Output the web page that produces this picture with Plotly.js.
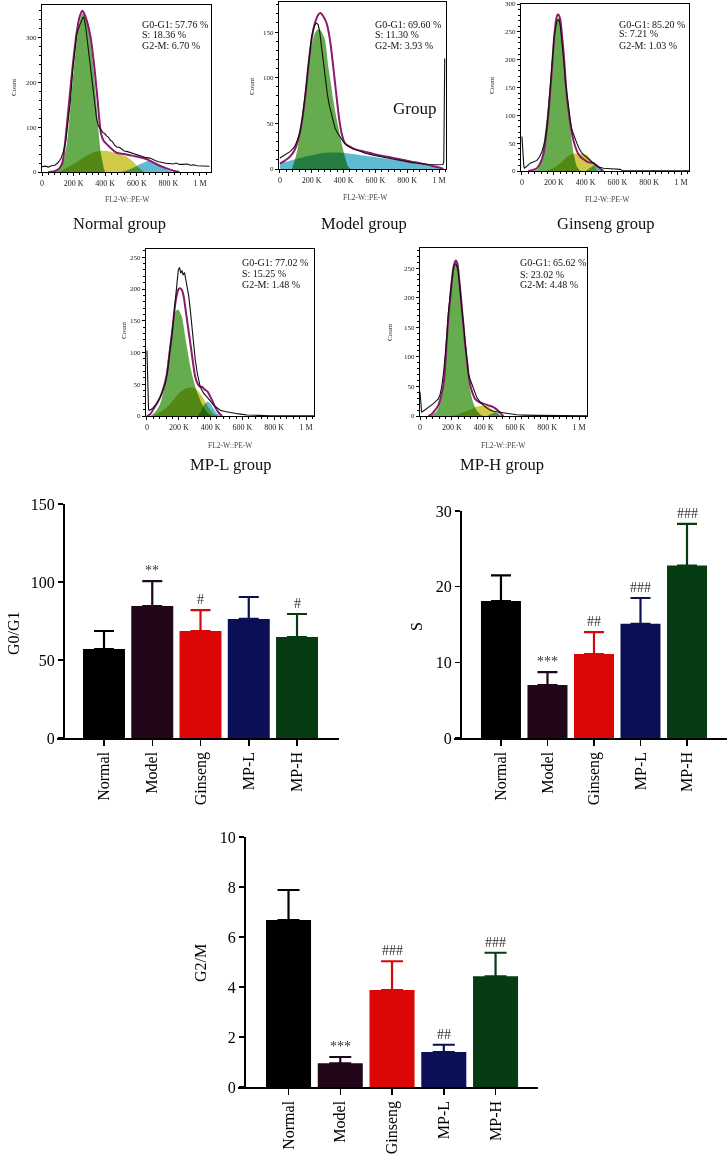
<!DOCTYPE html>
<html><head><meta charset="utf-8">
<script src="https://cdn.plot.ly/plotly-3.0.1.min.js"></script>
<style>html,body{margin:0;padding:0;background:#fff}#chart{width:728px;height:1154px}</style>
</head><body><div id="chart"></div>
<script>
// ---------- histogram data: [FL2-W (K), count] ----------
const normalData = [[0,12],[20,13],[40,11],[60,14],[80,15],[100,20],[120,30],[135,45],[150,68],[165,110],[180,160],[194,225],[208,280],[219,305],[230,320],[241,330],[250,338],[258,345],[264,346],[270,338],[278,320],[288,290],[300,250],[312,210],[324,170],[335,140],[346,118],[357,103],[367,96],[378,92],[388,88],[400,85],[410,80],[420,78],[430,72],[445,68],[460,60],[473,56],[490,55],[505,50],[520,47],[536,46],[555,44],[570,42],[585,41],[600,39],[620,36],[640,34],[660,32],[684,31],[700,28],[720,25],[740,23],[760,21],[789,19],[810,19],[830,18],[850,20],[870,17],[895,17],[920,18],[940,15],[960,16],[980,14],[1000,14],[1020,13],[1060,13]];
const normalFit = [[40,0],[80,2],[110,8],[130,22],[148,72],[173,161],[194,236],[219,310],[237,345],[255,360],[270,352],[290,330],[308,300],[331,236],[352,161],[373,87],[390,70],[405,64],[440,52],[473,43],[520,40],[578,36],[620,33],[660,29],[705,21],[745,14],[789,8],[830,3],[870,0]];
const normalG1 = [[60,0],[100,5],[130,20],[156,60],[181,150],[203,236],[226,310],[245,345],[257,355],[270,350],[287,335],[304,300],[325,236],[346,146],[363,72],[371,45],[383,22],[392,8],[400,0]];
const normalS = [[100,0],[150,8],[200,18],[240,27],[290,38],[330,44],[367,47],[409,47],[450,44],[490,40],[536,34],[570,25],[600,14],[625,6],[650,0]];
const normalG2 = [[500,0],[540,4],[580,10],[630,19],[684,25],[730,20],[770,10],[800,4],[830,0]];

const modelData = [[0,12],[20,14],[40,16],[63,19],[80,22],[94,25],[110,32],[126,40],[140,55],[157,78],[168,95],[178,113],[189,130],[199,145],[210,153],[220,158],[230,160],[241,158],[250,150],[258,138],[265,125],[272,115],[279,105],[287,95],[298,82],[310,70],[325,60],[336,52],[346,45],[360,40],[377,35],[398,30],[419,26],[440,24],[460,22],[482,21],[510,19],[540,17],[570,16],[587,15],[620,14],[650,13],[692,11.5],[730,10],[760,9],[797,8],[830,7],[860,6.5],[901,5.5],[940,5],[980,4.6],[1006,4.4],[1025,5],[1030,8],[1036,121]];
const modelFit = [[0,6],[30,9],[63,13.5],[90,20],[115,32],[136,50],[157,76],[178,112],[199,142],[220,160],[241,169],[255,171],[270,168],[293,160],[314,142],[335,112],[356,79],[373,54],[388,39],[409,28],[440,24.5],[482,21],[530,19],[587,16.5],[640,14.5],[692,12.8],[745,11],[797,9],[850,7.3],[901,5.5],[950,3.5],[1006,1.5],[1027,0]];
const modelG1 = [[75,0],[94,10],[110,22],[126,39],[142,60],[157,83],[173,106],[189,127],[205,140],[220,149],[236,153],[252,153],[268,148],[283,142],[294,128],[304,112],[320,94],[335,76],[351,60],[367,46],[388,28],[409,13.5],[430,2.5],[445,0]];
const modelS = [];
const modelG2 = [[0,6],[63,9],[126,12],[168,14],[220,16],[272,17.5],[325,18],[377,18],[430,17],[482,16],[535,14.5],[587,13.5],[640,12],[692,11],[745,9.5],[797,8],[850,6.3],[901,4.5],[950,2.5],[1006,1],[1027,0]];

const ginsengData = [[0,62],[5,30],[12,8],[17,5],[30,8],[52,14],[70,16],[94,19],[110,25],[126,35],[136,45],[146,56],[157,80],[167,110],[178,150],[188,188],[196,218],[203,242],[212,258],[220,269],[227,272],[234,271],[242,258],[251,236],[262,200],[272,164],[283,135],[293,110],[303,92],[314,74],[330,60],[345,50],[360,40],[377,32],[400,26],[429,20],[450,14],[471,8],[490,6],[513,5],[560,4],[600,3],[617,3],[630,1],[700,0.5],[1060,0.5]];
const ginsengFit = [[40,0],[70,2],[94,5],[115,14],[136,32],[150,60],[167,104],[178,145],[188,182],[197,220],[205,248],[215,272],[224,281],[232,280],[241,272],[251,245],[262,212],[272,172],[282,134],[293,108],[303,86],[318,62],[335,44],[350,33],[366,26],[387,21],[408,17],[430,15],[450,14],[465,11],[481,7],[497,3],[513,0]];
const ginsengG1 = [[73,0],[100,3],[115,12],[126,25],[136,50],[146,72],[157,98],[167,128],[178,158],[186,190],[195,218],[202,240],[209,254],[218,268],[226,274],[234,275],[245,262],[255,240],[262,218],[275,165],[287,128],[298,95],[307,68],[316,48],[324,32],[335,18],[345,8],[360,2],[375,0]];
const ginsengS = [[150,0],[200,6],[240,14],[270,22],[303,29],[324,31],[366,31],[408,29],[430,22],[450,12],[470,3],[480,0]];
const ginsengG2 = [[400,0],[430,6],[460,11],[480,8],[495,3],[510,0]];

const mplData = [[0,103],[5,40],[10,10],[15,9],[30,11],[42,14],[63,20],[84,30],[100,40],[115,51],[130,72],[147,103],[157,128],[168,156],[178,185],[189,213],[197,230],[205,234],[212,225],[220,229],[228,222],[236,226],[245,215],[255,203],[262,190],[272,168],[283,145],[293,115],[304,88],[318,65],[335,46],[356,36],[377,30],[398,24],[419,17],[440,13],[461,9],[490,7],[524,5],[560,4],[587,3],[610,2],[629,1.5],[700,1],[776,0.5],[1060,0.5]];
const mplFit = [[0,0],[21,3],[42,11.5],[63,20],[84,30],[105,45],[126,67],[142,100],[157,129],[168,155],[178,177],[189,192],[199,200],[210,201],[220,198],[231,188],[241,171],[257,142],[273,114],[288,87],[304,61],[320,50],[335,46],[346,46],[362,42],[382,38],[395,32],[409,25],[425,16],[440,9],[455,4],[472,0]];
const mplG1 = [[20,0],[42,4],[63,10],[84,20],[105,40],[120,65],[136,98],[147,122],[157,140],[168,155],[178,164],[189,167],[199,167],[210,162],[220,156],[230,142],[241,124],[257,100],[273,77],[293,56],[319,35],[346,19],[377,6],[409,0]];
const mplS = [[40,0],[84,6],[126,14],[168,26],[210,38],[250,44],[283,45],[304,43],[325,38],[346,31],[367,22],[388,13],[409,6],[430,2],[450,0]];
const mplG2 = [[320,0],[340,8],[360,18],[382,23],[400,19],[420,11],[440,4],[460,0]];

const mphData = [[0,41],[5,15],[10,7],[20,8],[42,12],[63,16],[84,21],[100,25],[115,29],[126,36],[136,49],[147,70],[157,94],[168,130],[178,174],[189,205],[199,230],[207,245],[214,254],[220,257],[226,257],[233,252],[241,242],[251,215],[262,185],[272,150],[283,118],[293,89],[304,72],[314,63],[325,55],[340,44],[356,32],[377,24],[398,18],[419,14],[440,10],[461,8],[482,7],[503,6],[524,5],[545,4],[566,3.4],[587,2.5],[608,2],[650,1.5],[734,1],[1060,0.5]];
const mphFit = [[52,0],[73,3],[94,9.6],[115,18],[126,26.6],[140,42],[151,60],[160,90],[168,128],[178,165],[189,196],[199,225],[210,250],[220,261],[226,263],[235,258],[245,235],[256,205],[262,185],[273,155],[283,123],[297,90],[310,60],[325,43],[346,29],[370,24],[398,21],[430,18],[461,15],[477,12],[493,8.5],[510,4],[524,0]];
const mphG1 = [[63,0],[84,3],[105,8],[120,18],[136,35],[150,70],[164,130],[178,175],[189,215],[200,240],[210,255],[220,260],[226,260],[236,250],[247,230],[260,190],[273,150],[288,105],[304,65],[320,38],[335,22],[351,12],[367,6],[383,2],[398,0]];
const mphS = [[200,0],[250,4],[290,8],[314,10],[345,15],[377,17],[400,17],[419,17],[440,14],[461,10],[480,6],[493,3],[514,0]];
const mphG2 = [[420,0],[450,4],[472,6],[490,5],[505,2],[524,0]];

const panelNames = ["Normal group","Model group","Ginseng group","MP-L group","MP-H group"];
const phaseLabels = ["G0-G1","S","G2-M"];
const normalStats = [57.76,18.36,6.70];
const modelStats = [69.60,11.30,3.93];
const ginsengStats = [85.20,7.21,1.03];
const mplStats = [77.02,15.25,1.48];
const mphStats = [65.62,23.02,4.48];
const histTickVals = [0,200,400,600,800,1000];
const histTickText = ["0","200 K","400 K","600 K","800 K","1 M"];

// ---------- bar chart data ----------
const groups = ["Normal","Model","Ginseng","MP-L","MP-H"];
const g0g1Mean = [57,84.6,68.6,76.3,64.7];
const g0g1SD = [11.6,16,13.4,14.1,14.8];
const g0g1Sig = ["","**","#","","#"];
const sMean = [18.1,7.0,11.1,15.1,22.8];
const sSD = [3.4,1.7,2.9,3.4,5.5];
const sSig = ["","***","##","###","###"];
const g2mMean = [6.68,0.95,3.88,1.4,4.43];
const g2mSD = [1.2,0.25,1.15,0.29,0.94];
const g2mSig = ["","***","###","##","###"];
const barColors = ["#000000","#22061a","#dc0606","#0b0f55","#053c14"];

// ---------- layout helpers ----------
const W = 728, H = 1154;
const FONT = "Liberation Serif, Times New Roman, serif";
const px = v => v / W;
const py = v => 1 - v / H;

const panels = [
  {d:[normalData,normalFit,normalG1,normalS,normalG2], st:normalStats, xd:[42,211], yd:[5,172], xr:[0,1070], yr:[0,373], dt:100, sx:140, sy:[24,35,45], cnt:[14,88], xt:[127,199], cap:[119,223]},
  {d:[modelData,modelFit,modelG1,modelS,modelG2], st:modelStats, xd:[279,446], yd:[2,169], xr:[-6,1044], yr:[0,183], dt:50, sx:373, sy:[24,35,46], cnt:[252,87], xt:[365,197], cap:[364,223]},
  {d:[ginsengData,ginsengFit,ginsengG1,ginsengS,ginsengG2], st:ginsengStats, xd:[521,689], yd:[4,171], xr:[-6,1050], yr:[0,300], dt:50, sx:617, sy:[24,34,46], cnt:[492,86], xt:[607,199], cap:[606,223]},
  {d:[mplData,mplFit,mplG1,mplS,mplG2], st:mplStats, xd:[146,314], yd:[249,416], xr:[-6,1050], yr:[0,263], dt:50, sx:240, sy:[263,273,284], cnt:[124,331], xt:[230,445], cap:[230,465]},
  {d:[mphData,mphFit,mphG1,mphS,mphG2], st:mphStats, xd:[420,587], yd:[248,416], xr:[0,1050], yr:[0,284], dt:50, sx:518, sy:[263,274,284], cnt:[390,333], xt:[503,445], cap:[502,465]}
];

const traces = [];
const layout = {
  width: W, height: H, margin:{l:0,r:0,t:0,b:0}, showlegend:false,
  paper_bgcolor:"#fff", plot_bgcolor:"rgba(0,0,0,0)", barmode:"overlay",
  font:{family:FONT, color:"#000"}, annotations:[], shapes:[]
};
const ann = (x,y,text,size,opt) => layout.annotations.push(Object.assign({
  xref:"paper", yref:"paper", x:px(x), y:py(y), text, showarrow:false,
  font:{family:FONT, size, color:"#111"}, xanchor:"center", yanchor:"middle"
}, opt||{}));

const fillCols = {g1:"rgb(102,172,78)", s:"rgb(208,202,72)", g2:"rgb(96,186,212)"};

panels.forEach((p, i) => {
  const n = i + 1, xa = "x" + n, ya = "y" + n;
  const [dat, fit, g1, s, g2] = p.d;
  const addFill = (pts, col) => { if (!pts.length) return; traces.push({
    type:"scatter", mode:"lines", xaxis:xa, yaxis:ya, x:pts.map(q=>q[0]), y:pts.map(q=>q[1]),
    fill:"tozeroy", fillcolor:col, line:{color:col, width:0, shape:"spline", smoothing:0.8}, hoverinfo:"skip"}); };
  addFill(s, fillCols.s); addFill(g2, fillCols.g2); addFill(g1, fillCols.g1);
  traces.push({type:"scatter", mode:"lines", xaxis:xa, yaxis:ya, x:fit.map(q=>q[0]), y:fit.map(q=>q[1]),
    line:{color:"#8a1a6c", width:2, shape:"spline", smoothing:0.8}, hoverinfo:"skip"});
  traces.push({type:"scatter", mode:"lines", xaxis:xa, yaxis:ya, x:dat.map(q=>q[0]), y:dat.map(q=>q[1]),
    line:{color:"#111", width:1.1}, hoverinfo:"skip"});
  layout["xaxis"+n] = {domain:[px(p.xd[0]),px(p.xd[1])], anchor:ya, range:p.xr, tickvals:histTickVals, ticktext:histTickText,
    ticks:"outside", ticklen:3, tickwidth:1, tickcolor:"#000", showline:true, mirror:true, linecolor:"#000", linewidth:1,
    showgrid:false, zeroline:false, tickfont:{family:FONT,size:8,color:"#222"},
    minor:{ticks:"outside", ticklen:2, dtick:40, tick0:0, tickcolor:"#000", showgrid:false}};
  layout["yaxis"+n] = {domain:[py(p.yd[1]),py(p.yd[0])], anchor:xa, range:p.yr, dtick:p.dt,
    ticks:"outside", ticklen:3, tickwidth:1, tickcolor:"#000", showline:true, mirror:true, linecolor:"#000", linewidth:1,
    showgrid:false, zeroline:false, tickfont:{family:FONT,size:7,color:"#222"},
    minor:{ticks:"outside", ticklen:2, dtick:p.dt/5, tick0:0, tickcolor:"#000", showgrid:false}};
  phaseLabels.forEach((lab, k) => ann(p.sx, p.sy[k], lab + ": " + p.st[k].toFixed(2) + " %", 10, {xanchor:"left"}));
  ann(p.cnt[0], p.cnt[1], "Count", 7, {textangle:-90});
  ann(p.xt[0], p.xt[1], "FL2-W::PE-W", 7.5, {font:{family:FONT,size:7.5,color:"#444"}});
  ann(p.cap[0], p.cap[1], panelNames[i], 16.5);
});
ann(414, 109, "Group", 17);

// ---------- bar charts ----------
const bars = [
  {mean:g0g1Mean, sd:g0g1SD, sig:g0g1Sig, title:"G0/G1", xd:[57,339], yd:[504,738], xr:[-0.974,4.87], yr:[0,150], dt:50, ypos:63, yt:[13,633], bw:0.87, cw:10},
  {mean:sMean, sd:sSD, sig:sSig, title:"S", xd:[454,727], yd:[511,738], xr:[-1.01,4.86], yr:[0,30], dt:10, ypos:460, yt:[416,627], bw:0.86, cw:10},
  {mean:g2mMean, sd:g2mSD, sig:g2mSig, title:"G2/M", xd:[238,538], yd:[837,1087], xr:[-0.976,4.82], yr:[0,10], dt:2, ypos:244, yt:[200,963], bw:0.87, cw:11}
];
bars.forEach((b, j) => {
  const n = 6 + j, xa = "x" + n, ya = "y" + n;
  groups.forEach((g, i) => {
    traces.push({type:"bar", xaxis:xa, yaxis:ya, x:[g], y:[b.mean[i]], width:b.bw,
      marker:{color:barColors[i], line:{width:0}},
      error_y:{type:"data", symmetric:false, array:[b.sd[i]], arrayminus:[0], color:barColors[i], thickness:2.2, width:b.cw},
      hoverinfo:"skip"});
    if (b.sig[i]) layout.annotations.push({xref:xa, yref:ya, x:g, y:b.mean[i] + b.sd[i], text:b.sig[i],
      showarrow:false, yanchor:"bottom", yshift:1, font:{family:FONT, size:14, color:"#333"}});
  });
  layout["xaxis"+n] = {domain:[px(b.xd[0]),px(b.xd[1])], anchor:ya, type:"category", categoryorder:"array", categoryarray:groups,
    range:b.xr, ticks:"outside", ticklen:6, tickwidth:1.5, tickcolor:"#000", showline:true, linecolor:"#000", linewidth:1.5,
    showgrid:false, zeroline:false, tickangle:-90, tickfont:{family:FONT,size:16,color:"#000"}};
  layout["yaxis"+n] = {domain:[py(b.yd[1]),py(b.yd[0])], anchor:"free", position:px(b.ypos), range:b.yr, dtick:b.dt,
    ticks:"outside", ticklen:5, tickwidth:1.5, tickcolor:"#000", showline:true, linecolor:"#000", linewidth:1.5,
    showgrid:false, zeroline:false, tickfont:{family:FONT,size:16,color:"#000"}};
  ann(b.yt[0], b.yt[1], b.title, 16, {textangle:-90, font:{family:FONT,size:16,color:"#000"}});
});

Plotly.newPlot("chart", traces, layout, {staticPlot:true, displayModeBar:false}).then(gd => {
  gd.querySelectorAll("path.js-fill").forEach(el => { el.style.mixBlendMode = "multiply"; });
});
</script></body></html>
